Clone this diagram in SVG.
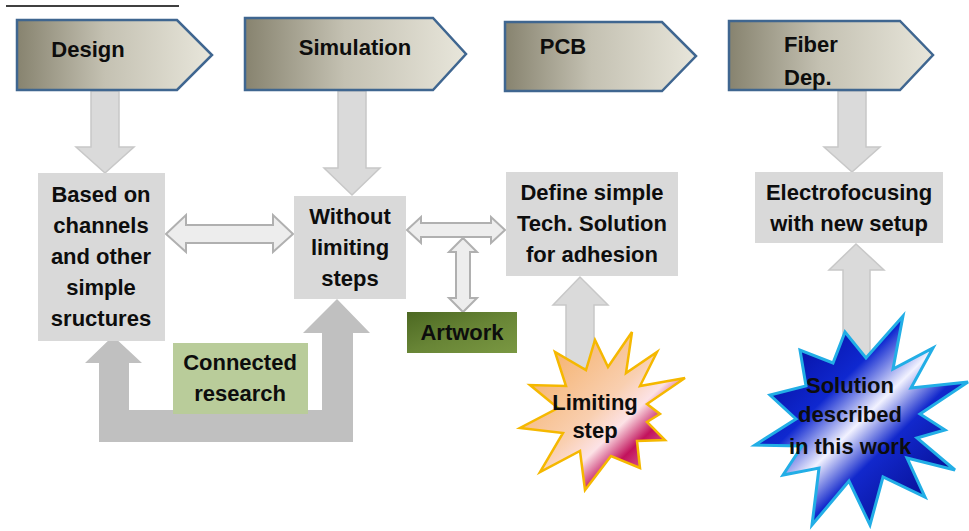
<svg xmlns="http://www.w3.org/2000/svg" width="969" height="531" viewBox="0 0 969 531">
<defs>
  <linearGradient id="chev" x1="0" y1="0" x2="1" y2="0">
    <stop offset="0" stop-color="#87836f"/>
    <stop offset="0.45" stop-color="#c4c1b2"/>
    <stop offset="1" stop-color="#e8e6db"/>
  </linearGradient>
  <linearGradient id="art" x1="0" y1="0" x2="1" y2="1">
    <stop offset="0" stop-color="#4c6822"/>
    <stop offset="0.5" stop-color="#688536"/>
    <stop offset="1" stop-color="#7a9842"/>
  </linearGradient>
  <linearGradient id="limit" x1="0" y1="0" x2="1" y2="1">
    <stop offset="0" stop-color="#f3a550"/>
    <stop offset="0.48" stop-color="#f9cfb0"/>
    <stop offset="0.6" stop-color="#fce2e6"/>
    <stop offset="0.71" stop-color="#c2125c"/>
    <stop offset="0.85" stop-color="#e27aa6"/>
    <stop offset="1" stop-color="#f6c9da"/>
  </linearGradient>
  <linearGradient id="sol" x1="0" y1="0" x2="1" y2="1">
    <stop offset="0" stop-color="#000080"/>
    <stop offset="0.36" stop-color="#0f28d0"/>
    <stop offset="0.5" stop-color="#f2f2ff"/>
    <stop offset="0.62" stop-color="#1228cc"/>
    <stop offset="1" stop-color="#000070"/>
  </linearGradient>
</defs>
<style>
  .chev { fill: url(#chev); stroke: #3f6690; stroke-width: 2.5; stroke-linejoin: miter; }
  .box { fill: #d9d9d9; }
  .t { font-family: "Liberation Sans", Arial, sans-serif; font-weight: bold; font-size: 22px; fill: #0d0d0d; text-anchor: middle; }
  .ts { font-family: "Liberation Sans", Arial, sans-serif; font-weight: bold; font-size: 22px; fill: #0d0d0d; }
  .solid { fill: #dadada; stroke: #c8c8c8; stroke-width: 1.5; }
  .hollow { fill: #ededed; stroke: #b0b0b0; stroke-width: 2; stroke-linejoin: miter; }
  .big { fill: #c0c0c0; }
</style>

<line x1="6" y1="6" x2="179" y2="6" stroke="#000" stroke-width="1.5"/>

<g id="connectors">
  <path class="solid" d="M91,91 H119 V147 H134 L105,173 L76,147 H91 Z"/>
  <path class="solid" d="M338,91 H366 V168 H380 L352,195 L324,168 H338 Z"/>
  <path class="solid" d="M838,91 H866 V147 H880 L852,172 L824,147 H838 Z"/>
  <path class="hollow" d="M166,234 L186,215 L186,225 L273,225 L273,215 L293,234 L273,252 L273,243 L186,243 L186,252 Z"/>
  <path class="hollow" d="M407,230 L421,217 L421,223 L491,223 L491,217 L505,230 L491,243 L491,237 L421,237 L421,243 Z"/>
  <path class="hollow" d="M463,238 L477,252 L470,252 L470,298 L477,298 L463,312 L449,298 L456,298 L456,252 L449,252 Z"/>
  <path class="solid" d="M566,368 V305 H553 L580,277 L608,305 H594 V368 Z"/>
  <path class="solid" d="M843,365 V270 H829 L856,244 L884,270 H870 V365 Z"/>
  <path class="big" d="M113,336 L142,363 L129,363 L129,410 L322,410 L322,333 L303,333 L337,299 L370,333 L353,333 L353,442 L99,442 L99,363 L85,363 Z"/>
</g>

<g id="design">
  <path class="chev" d="M17,20 H177 L212,55 L177,90 H17 Z"/>
  <text class="t" x="88" y="57">Design</text>
</g>
<g id="simulation">
  <path class="chev" d="M245,18 H433 L466,54 L433,90 H245 Z"/>
  <text class="t" x="355" y="55">Simulation</text>
</g>
<g id="pcb">
  <path class="chev" d="M505,22 H662 L696,56 L662,91 H505 Z"/>
  <text class="t" x="563" y="54">PCB</text>
</g>
<g id="fiber">
  <path class="chev" d="M729,21 H900 L933,55 L900,90 H729 Z"/>
  <text class="ts" x="784" y="52">Fiber</text>
  <text class="ts" x="784" y="85">Dep.</text>
</g>

<g id="based">
  <rect class="box" x="38" y="173" width="127" height="168"/>
  <text class="t" x="101" y="202">Based on</text>
  <text class="t" x="101" y="233">channels</text>
  <text class="t" x="101" y="264">and other</text>
  <text class="t" x="101" y="295">simple</text>
  <text class="t" x="101" y="326">sructures</text>
</g>
<g id="without">
  <rect class="box" x="294" y="196" width="112" height="103"/>
  <text class="t" x="350" y="224">Without</text>
  <text class="t" x="350" y="255">limiting</text>
  <text class="t" x="350" y="286">steps</text>
</g>
<g id="define">
  <rect class="box" x="506" y="172" width="172" height="104"/>
  <text class="t" x="592" y="200">Define simple</text>
  <text class="t" x="592" y="231">Tech. Solution</text>
  <text class="t" x="592" y="262">for adhesion</text>
</g>
<g id="electro">
  <rect class="box" x="755" y="172" width="188" height="71"/>
  <text class="t" x="849" y="200">Electrofocusing</text>
  <text class="t" x="849" y="231">with new setup</text>
</g>
<g id="artwork">
  <rect x="407" y="312" width="110" height="41" fill="url(#art)"/>
  <text class="t" x="462" y="340">Artwork</text>
</g>
<g id="connected">
  <rect x="173" y="343" width="135" height="71" fill="#b9cc9a"/>
  <text class="t" x="240" y="370">Connected</text>
  <text class="t" x="240" y="401">research</text>
</g>
<g id="limiting">
  <polygon fill="url(#limit)" stroke="#f5b800" stroke-width="2.5" stroke-linejoin="miter"
    points="632,332 626,373 657,352 640,386 685,378 647,404 660,414 647,422 665,440 637,441 640,468 611,456 585,490 580,451 540,472 563,433 520,428 558,408 530,385 566,386 555,352 586,370 595,340 608,367"/>
  <text class="t" x="595" y="410">Limiting</text>
  <text class="t" x="595" y="438">step</text>
</g>
<g id="solution">
  <polygon fill="url(#sol)" stroke="#22aee6" stroke-width="3" stroke-linejoin="miter"
    points="903,316 893,369 933,348 911,388 968,382 920,414 945,430 917,438 955,470 907,458 925,497 883,477 870,525 849,481 812,525 819,468 783,475 802,446 755,445 796,419 770,395 806,386 800,350 833,363 845,332 866,358"/>
  <text class="t" x="850" y="393">Solution</text>
  <text class="t" x="850" y="422">described</text>
  <text class="t" x="850" y="454">in this work</text>
</g>
</svg>
